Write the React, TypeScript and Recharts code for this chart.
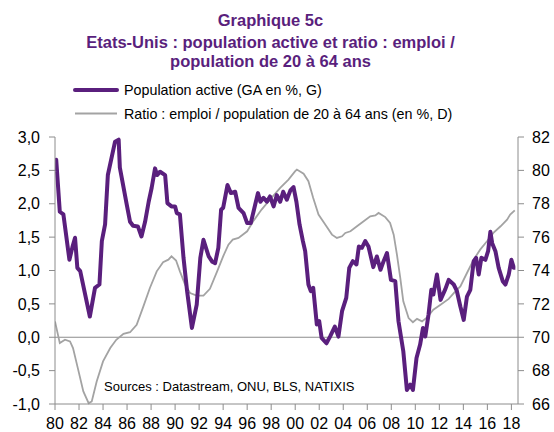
import React from "react";
import { LineChart, Line, XAxis, YAxis, ReferenceLine } from "recharts";

const popYears = [
  1980.0, 1980.1, 1980.4, 1980.7, 1981.2, 1981.45, 1981.67, 1981.86, 1982.1, 1982.9,
  1983.33, 1983.7, 1983.9, 1984.17, 1984.4, 1985.0, 1985.3, 1985.4, 1985.97, 1986.25,
  1986.5, 1986.9, 1987.2, 1987.5, 1987.8, 1988.05, 1988.33, 1988.5, 1988.75, 1989.17,
  1989.36, 1989.7, 1990.0, 1990.14, 1990.4, 1990.7, 1991.0, 1991.4, 1991.8, 1992.1,
  1992.36, 1992.8, 1993.1, 1993.33, 1993.6, 1993.83, 1994.0, 1994.36, 1994.64, 1995.0,
  1995.28, 1995.7, 1996.0, 1996.3, 1996.67, 1996.9, 1997.1, 1997.36, 1997.64, 1997.9,
  1998.2, 1998.47, 1998.75, 1999.0, 1999.3, 1999.6, 1999.86, 2000.1, 2000.36, 2000.64,
  2000.83, 2001.1, 2001.3, 2001.5, 2001.8, 2002.0, 2002.2, 2002.6, 2002.9, 2003.3,
  2003.6, 2003.9, 2004.25, 2004.5, 2004.8, 2005.1, 2005.3, 2005.55, 2005.83, 2006.1,
  2006.5, 2006.8, 2007.1, 2007.36, 2007.64, 2007.97, 2008.33, 2008.6, 2009.0, 2009.3,
  2009.58, 2009.8, 2010.1, 2010.4, 2010.64, 2010.83, 2011.1, 2011.33, 2011.5, 2011.8,
  2012.1, 2012.5, 2012.78, 2013.2, 2013.45, 2013.75, 2014.03, 2014.3, 2014.58, 2014.86,
  2015.06, 2015.28, 2015.5, 2015.83, 2016.06, 2016.25, 2016.4, 2016.67, 2016.94, 2017.28,
  2017.5, 2017.78, 2018.0, 2018.2, 2018.33,
];
const popValues = [
  2.48, 2.66, 1.88, 1.84, 1.16, 1.35, 1.49, 1.04, 0.99, 0.31,
  0.74, 0.79, 1.44, 1.69, 2.43, 2.93, 2.96, 2.54, 1.99, 1.73,
  1.67, 1.66, 1.51, 1.73, 2.03, 2.24, 2.53, 2.43, 2.48, 2.43,
  2.01, 1.96, 1.96, 1.86, 1.84, 1.19, 0.69, 0.14, 0.49, 1.19,
  1.46, 1.21, 1.13, 1.11, 1.34, 1.91, 1.94, 2.28, 2.16, 2.18,
  1.94, 1.86, 1.71, 1.71, 1.99, 2.16, 2.03, 2.09, 2.03, 2.11,
  1.96, 2.13, 2.03, 2.18, 2.06, 2.2, 2.25, 2.03, 1.69, 1.44,
  1.29, 0.79, 0.69, 0.74, 0.19, 0.24, -0.01, -0.09, 0.01, 0.16,
  0.01, 0.39, 0.59, 1.04, 1.14, 1.09, 1.36, 1.34, 1.44, 1.36,
  1.05, 1.21, 1.01, 1.14, 1.26, 0.86, 0.84, 0.24, -0.21, -0.79,
  -0.71, -0.79, -0.31, -0.11, 0.14, 0.01, 0.34, 0.71, 0.64, 0.94,
  0.56, 0.72, 0.86, 0.79, 0.7, 0.46, 0.26, 0.61, 0.71, 1.14,
  1.19, 0.94, 1.19, 1.16, 1.29, 1.58, 1.41, 1.29, 1.04, 0.84,
  0.79, 0.94, 1.16, 1.04, 1.04,
];

const ratioYears = [
  1980.0, 1980.4, 1980.83, 1981.25, 1981.5, 1981.9, 1982.36, 1982.8, 1983.06, 1983.47,
  1984.0, 1984.6, 1985.1, 1985.7, 1986.25, 1986.8, 1987.36, 1987.9, 1988.47, 1989.0,
  1989.44, 1989.7, 1990.08, 1990.4, 1990.83, 1991.25, 1991.8, 1992.36, 1992.9, 1993.5,
  1994.0, 1994.44, 1994.8, 1995.28, 1996.0, 1996.5, 1997.2, 1997.9, 1998.75, 1999.44,
  2000.0, 2000.14, 2000.7, 2001.1, 2001.5, 2001.94, 2002.5, 2003.06, 2003.47, 2003.9,
  2004.17, 2004.6, 2005.14, 2005.7, 2006.25, 2006.67, 2006.94, 2007.5, 2007.9, 2008.2,
  2008.47, 2008.75, 2009.0, 2009.44, 2009.8, 2010.14, 2010.56, 2011.0, 2011.5, 2012.1,
  2012.78, 2013.33, 2013.75, 2014.3, 2014.86, 2015.4, 2015.97, 2016.5, 2017.1, 2017.64,
  2017.9, 2018.28,
];
const ratioValues = [
  70.95, 69.65, 69.85, 69.75, 69.35, 68.15, 66.75, 66.05, 66.15, 67.35,
  68.55, 69.35, 69.85, 70.2, 70.3, 70.75, 71.85, 72.95, 73.95, 74.5,
  74.65, 74.85, 74.6, 73.95, 73.15, 72.65, 72.5, 72.5, 72.9, 73.95,
  74.85, 75.55, 75.85, 75.95, 76.35, 76.95, 77.65, 78.25, 78.95, 79.45,
  79.95, 80.05, 79.8, 79.35, 78.35, 77.35, 76.75, 76.15, 75.95, 76.05,
  76.25, 76.35, 76.65, 76.95, 77.25, 77.3, 77.45, 77.2, 76.85, 76.15,
  74.95, 73.55, 72.15, 71.15, 70.9, 71.1, 70.95, 71.2, 71.65, 71.95,
  72.3, 72.75, 73.05, 73.85, 74.65, 75.25, 75.75, 76.25, 76.65, 77.05,
  77.35, 77.6,
];

const xTicks = [
  1980, 1982, 1984, 1986, 1988, 1990, 1992, 1994, 1996, 1998,
  2000, 2002, 2004, 2006, 2008, 2010, 2012, 2014, 2016, 2018,
];
const leftTicks = [-1, -0.5, 0, 0.5, 1, 1.5, 2, 2.5, 3];
const rightTicks = [66, 68, 70, 72, 74, 76, 78, 80, 82];

const titleLines = [
  "Graphique 5c",
  "Etats-Unis : population active et ratio : emploi /",
  "population de 20 à 64 ans",
];
const legendLabels = [
  "Population active (GA en %, G)",
  "Ratio : emploi / population de 20 à 64 ans (en %, D)",
];
const sourceText = "Sources : Datastream, ONU, BLS, NATIXIS";

const PURPLE = "#5a1f7d";
const GRAY = "#a3a3a3";
const AXIS = "#8c8c8c";
const FONT = "'Liberation Sans', Arial, sans-serif";

type Pt = { x: number; pop?: number; ratio?: number };
const mergedMap = new Map<number, Pt>();
popYears.forEach((y, i) => {
  const p = mergedMap.get(y) || { x: y };
  p.pop = popValues[i];
  mergedMap.set(y, p);
});
ratioYears.forEach((y, i) => {
  const p = mergedMap.get(y) || { x: y };
  p.ratio = ratioValues[i];
  mergedMap.set(y, p);
});
const data = Array.from(mergedMap.values()).sort((a, b) => a.x - b.x);

const fmtLeft = (v: number) => v.toFixed(1).replace(".", ",");
const fmtYear = (v: number) => String(v % 100).padStart(2, "0");

export default function App() {
  return (
    <div style={{ position: "absolute", left: 0, top: 0, width: 554, height: 432, background: "#fff" }}>
      <LineChart
        width={554}
        height={432}
        data={data}
        margin={{ top: 137, right: 6, bottom: 6, left: 15 }}
        style={{ fontFamily: FONT }}
      >
        <XAxis
          dataKey="x"
          type="number"
          domain={[1980, 2018.55]}
          ticks={xTicks}
          interval={0}
          tickFormatter={fmtYear}
          height={22}
          tickSize={6}
          tickMargin={8}
          stroke={AXIS}
          axisLine={{ stroke: AXIS }}
          tickLine={{ stroke: AXIS }}
          tick={{ fill: "#000", fontSize: 16, fontFamily: FONT }}
          allowDataOverflow
        />
        <YAxis
          yAxisId="left"
          orientation="left"
          domain={[-1, 3]}
          ticks={leftTicks}
          interval={0}
          tickFormatter={fmtLeft}
          width={40}
          tickSize={6}
          tickMargin={9}
          axisLine={{ stroke: AXIS }}
          tickLine={{ stroke: AXIS }}
          tick={{ fill: "#000", fontSize: 16, fontFamily: FONT }}
        />
        <YAxis
          yAxisId="right"
          orientation="right"
          domain={[66, 82]}
          ticks={rightTicks}
          interval={0}
          width={30}
          tickSize={6}
          tickMargin={8}
          axisLine={{ stroke: AXIS }}
          tickLine={{ stroke: AXIS }}
          tick={{ fill: "#000", fontSize: 16, fontFamily: FONT }}
        />
        <ReferenceLine yAxisId="left" y={0} stroke={AXIS} strokeWidth={1.2} />
        <Line
          yAxisId="right"
          dataKey="ratio"
          stroke={GRAY}
          strokeWidth={1.8}
          dot={false}
          connectNulls
          type="linear"
          isAnimationActive={false}
        />
        <Line
          yAxisId="left"
          dataKey="pop"
          stroke={PURPLE}
          strokeWidth={4}
          dot={false}
          connectNulls
          type="linear"
          strokeLinejoin="round"
          isAnimationActive={false}
        />
      </LineChart>
      <svg
        width={554}
        height={432}
        style={{ position: "absolute", left: 0, top: 0, pointerEvents: "none" }}
      >
        <g fontFamily={FONT} fontWeight="bold" fontSize={16.5} fill={PURPLE} textAnchor="middle">
          <text x={270.5} y={26}>{titleLines[0]}</text>
          <text x={270.5} y={47.5}>{titleLines[1]}</text>
          <text x={270.5} y={67}>{titleLines[2]}</text>
        </g>
        <line x1={75} x2={117} y1={90} y2={90} stroke={PURPLE} strokeWidth={4} strokeLinecap="round" />
        <line x1={75} x2={117} y1={113.5} y2={113.5} stroke={GRAY} strokeWidth={2} />
        <g fontFamily={FONT} fontSize={14.3} fill="#000">
          <text x={124} y={95}>{legendLabels[0]}</text>
          <text x={124} y={118.5}>{legendLabels[1]}</text>
        </g>
        <text x={104} y={391} fontFamily={FONT} fontSize={13} fill="#000">{sourceText}</text>
      </svg>
    </div>
  );
}
